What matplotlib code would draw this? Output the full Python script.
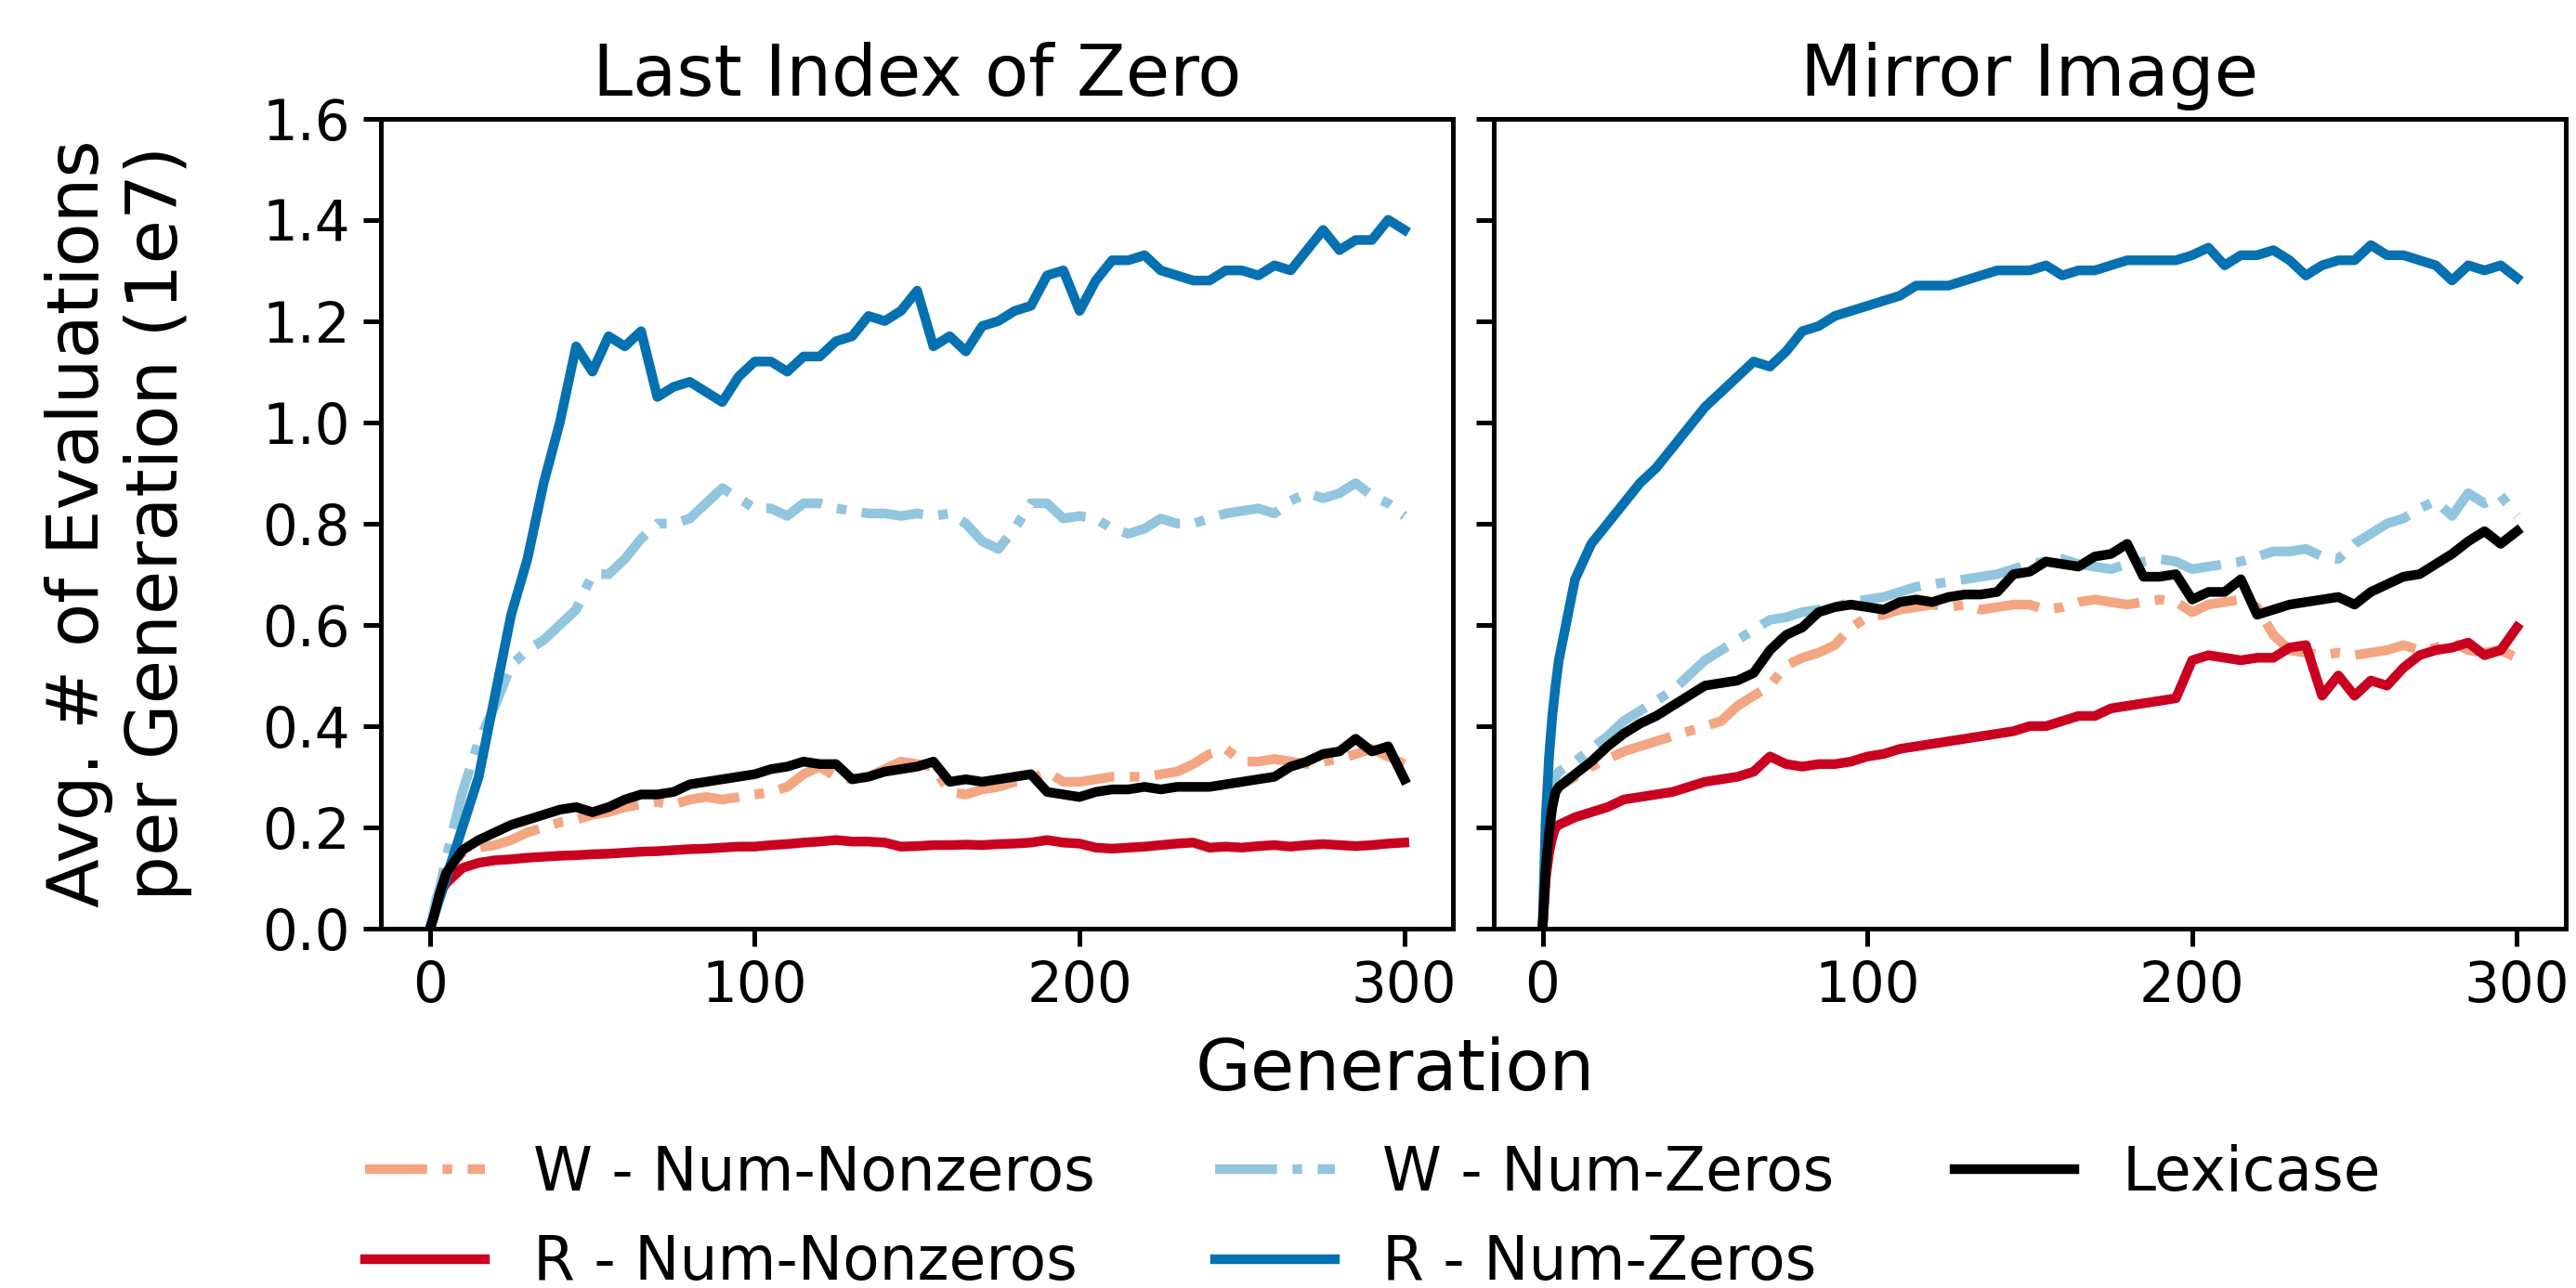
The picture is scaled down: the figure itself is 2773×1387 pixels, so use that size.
import numpy as np
import matplotlib.pyplot as plt

# generations: every gen for the first few, then every 5
gens = np.concatenate([np.arange(0, 5), np.arange(5, 301, 5)])

# ---- Last Index of Zero ----
liz_w_nonzeros = [0, 0.02, 0.045, 0.07, 0.09,
                  0.11, 0.15, 0.16, 0.165, 0.175, 0.19, 0.20, 0.21, 0.215, 0.225,
                  0.23, 0.24, 0.245, 0.25, 0.245, 0.255, 0.26, 0.255, 0.26, 0.265,
                  0.27, 0.28, 0.305, 0.32, 0.30, 0.295, 0.30, 0.315, 0.33, 0.325,
                  0.32, 0.27, 0.265, 0.275, 0.28, 0.29, 0.295, 0.31, 0.29, 0.29,
                  0.295, 0.30, 0.30, 0.30, 0.305, 0.31, 0.325, 0.345, 0.355, 0.33,
                  0.33, 0.335, 0.33, 0.325, 0.33, 0.335, 0.345, 0.355, 0.34, 0.325]
liz_r_nonzeros = [0, 0.02, 0.045, 0.065, 0.08,
                  0.09, 0.12, 0.13, 0.135, 0.137, 0.14, 0.142, 0.144, 0.145, 0.147,
                  0.148, 0.15, 0.152, 0.153, 0.155, 0.157, 0.158, 0.16, 0.162, 0.162,
                  0.165, 0.167, 0.17, 0.172, 0.175, 0.172, 0.172, 0.17, 0.162, 0.163,
                  0.165, 0.165, 0.166, 0.165, 0.167, 0.168, 0.17, 0.175, 0.17, 0.168,
                  0.16, 0.158, 0.16, 0.162, 0.165, 0.168, 0.17, 0.16, 0.162, 0.16,
                  0.163, 0.165, 0.162, 0.165, 0.167, 0.165, 0.163, 0.165, 0.168, 0.17]
liz_w_zeros = [0, 0.03, 0.06, 0.08, 0.11,
               0.14, 0.27, 0.37, 0.44, 0.52, 0.55, 0.57, 0.60, 0.63, 0.70,
               0.70, 0.73, 0.77, 0.80, 0.80, 0.81, 0.84, 0.87, 0.85, 0.83,
               0.83, 0.815, 0.84, 0.84, 0.83, 0.825, 0.82, 0.82, 0.815, 0.82,
               0.815, 0.82, 0.80, 0.765, 0.75, 0.79, 0.84, 0.84, 0.81, 0.815,
               0.81, 0.79, 0.78, 0.79, 0.81, 0.80, 0.80, 0.81, 0.82, 0.825,
               0.83, 0.82, 0.845, 0.86, 0.85, 0.86, 0.88, 0.855, 0.84, 0.815]
liz_r_zeros = [0, 0.02, 0.04, 0.06, 0.08,
               0.10, 0.20, 0.30, 0.46, 0.62, 0.73, 0.88, 1.00, 1.15, 1.10,
               1.17, 1.15, 1.18, 1.05, 1.07, 1.08, 1.06, 1.04, 1.09, 1.12,
               1.12, 1.10, 1.13, 1.13, 1.16, 1.17, 1.21, 1.20, 1.22, 1.26,
               1.15, 1.17, 1.14, 1.19, 1.20, 1.22, 1.23, 1.29, 1.30, 1.22,
               1.28, 1.32, 1.32, 1.33, 1.30, 1.29, 1.28, 1.28, 1.30, 1.30,
               1.29, 1.31, 1.30, 1.34, 1.38, 1.34, 1.36, 1.36, 1.40, 1.38]
liz_lexicase = [0, 0.02, 0.045, 0.07, 0.09,
                0.11, 0.155, 0.175, 0.19, 0.205, 0.215, 0.225, 0.235, 0.24, 0.23,
                0.24, 0.255, 0.265, 0.265, 0.27, 0.285, 0.29, 0.295, 0.30, 0.305,
                0.315, 0.32, 0.33, 0.325, 0.325, 0.295, 0.30, 0.31, 0.315, 0.32,
                0.33, 0.29, 0.295, 0.29, 0.295, 0.30, 0.305, 0.27, 0.265, 0.26,
                0.27, 0.275, 0.275, 0.28, 0.275, 0.28, 0.28, 0.28, 0.285, 0.29,
                0.295, 0.30, 0.32, 0.33, 0.345, 0.35, 0.375, 0.35, 0.36, 0.295]

# ---- Mirror Image ----
mi_w_nonzeros = [0, 0.12, 0.20, 0.25, 0.27,
                 0.28, 0.30, 0.32, 0.335, 0.35, 0.36, 0.37, 0.38, 0.39, 0.40,
                 0.41, 0.44, 0.46, 0.48, 0.52, 0.535, 0.545, 0.56, 0.595, 0.615,
                 0.62, 0.63, 0.635, 0.64, 0.635, 0.64, 0.63, 0.635, 0.64, 0.64,
                 0.63, 0.635, 0.645, 0.65, 0.645, 0.64, 0.645, 0.65, 0.645, 0.625,
                 0.64, 0.645, 0.65, 0.635, 0.58, 0.55, 0.545, 0.54, 0.545, 0.54,
                 0.545, 0.55, 0.56, 0.55, 0.555, 0.565, 0.55, 0.545, 0.55, 0.535]
mi_r_nonzeros = [0, 0.10, 0.15, 0.18, 0.20,
                 0.205, 0.22, 0.23, 0.24, 0.255, 0.26, 0.265, 0.27, 0.28, 0.29,
                 0.295, 0.30, 0.31, 0.34, 0.325, 0.32, 0.325, 0.325, 0.33, 0.34,
                 0.345, 0.355, 0.36, 0.365, 0.37, 0.375, 0.38, 0.385, 0.39, 0.40,
                 0.40, 0.41, 0.42, 0.42, 0.435, 0.44, 0.445, 0.45, 0.455, 0.53,
                 0.54, 0.535, 0.53, 0.535, 0.535, 0.555, 0.56, 0.46, 0.50, 0.46,
                 0.49, 0.48, 0.515, 0.54, 0.55, 0.555, 0.565, 0.54, 0.55, 0.595]
mi_w_zeros = [0, 0.15, 0.24, 0.28, 0.30,
              0.31, 0.33, 0.355, 0.38, 0.41, 0.43, 0.45, 0.47, 0.50, 0.53,
              0.55, 0.57, 0.59, 0.61, 0.615, 0.625, 0.63, 0.635, 0.645, 0.65,
              0.655, 0.665, 0.675, 0.68, 0.685, 0.69, 0.695, 0.70, 0.71, 0.72,
              0.725, 0.73, 0.72, 0.715, 0.71, 0.72, 0.725, 0.73, 0.725, 0.71,
              0.715, 0.72, 0.725, 0.735, 0.745, 0.745, 0.75, 0.735, 0.73, 0.76,
              0.78, 0.80, 0.81, 0.83, 0.845, 0.815, 0.86, 0.84, 0.855, 0.815]
mi_r_zeros = [0, 0.22, 0.34, 0.42, 0.48,
              0.53, 0.69, 0.76, 0.80, 0.84, 0.88, 0.91, 0.95, 0.99, 1.03,
              1.06, 1.09, 1.12, 1.11, 1.14, 1.18, 1.19, 1.21, 1.22, 1.23,
              1.24, 1.25, 1.27, 1.27, 1.27, 1.28, 1.29, 1.30, 1.30, 1.30,
              1.31, 1.29, 1.30, 1.30, 1.31, 1.32, 1.32, 1.32, 1.32, 1.33,
              1.345, 1.31, 1.33, 1.33, 1.34, 1.32, 1.29, 1.31, 1.32, 1.32,
              1.35, 1.33, 1.33, 1.32, 1.31, 1.28, 1.31, 1.30, 1.31, 1.285]
mi_lexicase = [0, 0.12, 0.19, 0.24, 0.27,
               0.28, 0.305, 0.33, 0.36, 0.385, 0.405, 0.42, 0.44, 0.46, 0.48,
               0.485, 0.49, 0.505, 0.55, 0.58, 0.595, 0.625, 0.635, 0.64, 0.635,
               0.63, 0.645, 0.65, 0.645, 0.655, 0.66, 0.66, 0.665, 0.70, 0.705,
               0.725, 0.72, 0.715, 0.735, 0.74, 0.76, 0.695, 0.695, 0.70, 0.65,
               0.665, 0.665, 0.69, 0.62, 0.63, 0.64, 0.645, 0.65, 0.655, 0.64,
               0.665, 0.68, 0.695, 0.70, 0.72, 0.74, 0.765, 0.785, 0.76, 0.785]

labels = ['W - Num-Nonzeros', 'R - Num-Nonzeros', 'W - Num-Zeros',
          'R - Num-Zeros', 'Lexicase']
colors = ['#f4a582', '#ca0020', '#92c5de', '#0571b0', 'black']
styles = ['-.', '-', '-.', '-', '-']

panels = [
    ('Last Index of Zero', [liz_w_nonzeros, liz_r_nonzeros, liz_w_zeros, liz_r_zeros, liz_lexicase]),
    ('Mirror Image', [mi_w_nonzeros, mi_r_nonzeros, mi_w_zeros, mi_r_zeros, mi_lexicase]),
]

fig, axes = plt.subplots(1, 2, sharey=True, figsize=(2773 / 300, 1387 / 300), dpi=300)
fig.subplots_adjust(left=0.148, right=0.996, top=0.908, bottom=0.279, wspace=0.038)

for ax, (title, series) in zip(axes, panels):
    for vals, lab, c, ls in zip(series, labels, colors, styles):
        ax.plot(gens, vals, color=c, linestyle=ls, linewidth=2.5, label=lab)
    ax.set_title(title, fontsize=18.5)
    ax.set_ylim(0, 1.6)
    ax.set_xticks([0, 100, 200, 300])
    ax.set_yticks(np.arange(0, 1.61, 0.2))
    ax.tick_params(labelsize=14.3, width=1.2, length=4.5)
    for sp in ax.spines.values():
        sp.set_linewidth(1.2)

axes[0].set_ylabel('Avg. # of Evaluations\nper Generation (1e7)', fontsize=18.5, labelpad=18)
fig.text(0.5415, 0.169, 'Generation', ha='center', va='center', fontsize=18.5)

handles, labs = axes[0].get_legend_handles_labels()
fig.legend(handles, labs, loc='center', bbox_to_anchor=(0.533, 0.054), ncol=3,
           frameon=False, fontsize=15.5, columnspacing=2.0, labelspacing=0.5)

plt.savefig('out.png', dpi=300)
